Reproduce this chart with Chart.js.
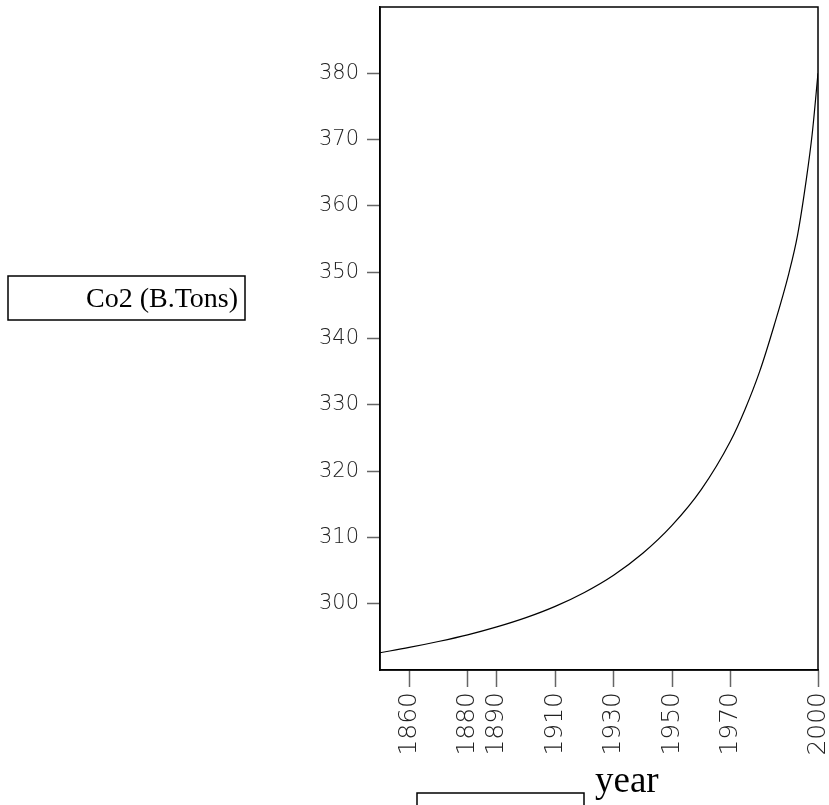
<!DOCTYPE html>
<html>
<head>
<meta charset="utf-8">
<script src="https://cdn.jsdelivr.net/npm/chart.js@4/dist/chart.umd.min.js"></script>
<style>
  body { margin: 0; background: #fff; }
  #wrap { width: 829px; height: 805px; position: relative; }
</style>
</head>
<body>
<div id="wrap"><canvas id="co2Chart"></canvas></div>
<script>
const years = [1850, 1860, 1870, 1880, 1890, 1900, 1910, 1920, 1930, 1940, 1950, 1960, 1970, 1975, 1980, 1985, 1990, 1993, 1996, 1998, 2000];
const co2 = [292.6, 293.4, 294.3, 295.3, 296.5, 297.9, 299.6, 301.7, 304.3, 307.6, 311.8, 317.2, 324.5, 329.3, 335.0, 342.0, 349.8, 355.6, 364.0, 370.8, 380.0];
const xTicks = [1860, 1880, 1890, 1910, 1930, 1950, 1970, 2000];
const yTicks = [300, 310, 320, 330, 340, 350, 360, 370, 380];
const yLabel = 'Co2 (B.Tons)';
const xLabel = 'year';

// frame + the two boxed titles
const extras = {
  id: 'extras',
  afterDraw(chart) {
    const { ctx, chartArea: a } = chart;
    ctx.save();
    ctx.strokeStyle = '#000';
    ctx.lineWidth = 1.5;
    ctx.strokeRect(a.left, a.top, a.right - a.left, a.bottom - a.top);

    // y title box
    ctx.strokeRect(8, 276, 237, 44);
    ctx.fillStyle = '#000';
    ctx.font = '28px "Liberation Serif", "Times New Roman", serif';
    ctx.textAlign = 'right';
    ctx.textBaseline = 'alphabetic';
    ctx.fillText(yLabel, 238, 307);

    // x title box (runs off the bottom)
    ctx.beginPath();
    ctx.moveTo(417, 810);
    ctx.lineTo(417, 793);
    ctx.lineTo(584, 793);
    ctx.lineTo(584, 810);
    ctx.stroke();
    ctx.font = '37px "Liberation Serif", "Times New Roman", serif';
    ctx.textAlign = 'left';
    ctx.fillText(xLabel, 595, 792);
    ctx.restore();
  }
};

new Chart(document.getElementById('co2Chart'), {
  type: 'line',
  data: {
    datasets: [{
      data: years.map((y, i) => ({ x: y, y: co2[i] })),
      borderColor: '#000',
      borderWidth: 1.2,
      pointRadius: 0,
      cubicInterpolationMode: 'monotone',
      fill: false
    }]
  },
  options: {
    responsive: true,
    maintainAspectRatio: false,
    animation: false,
    layout: { padding: { top: 7, right: 11, left: 0, bottom: 0 } },
    plugins: { legend: { display: false }, tooltip: { enabled: false } },
    scales: {
      x: {
        type: 'linear',
        min: 1850,
        max: 2000,
        afterBuildTicks: s => { s.ticks = xTicks.map(v => ({ value: v })); },
        afterFit: s => { s.height = 135; s.paddingLeft = 0; s.paddingRight = 0; },
        grid: { drawOnChartArea: false, tickLength: 17, tickColor: '#666', tickWidth: 1.5 },
        border: { color: '#000', width: 1.5 },
        ticks: {
          minRotation: 90,
          maxRotation: 90,
          padding: 5,
          color: '#222',
          autoSkip: false,
          font: { family: '"DejaVu Sans"', weight: '200', size: 25 },
          callback: v => String(v)
        }
      },
      y: {
        min: 290,
        max: 390,
        afterBuildTicks: s => { s.ticks = yTicks.map(v => ({ value: v })); },
        afterFit: s => { s.width = 380; s.paddingTop = 0; s.paddingBottom = 0; },
        grid: { drawOnChartArea: false, tickLength: 13, tickColor: '#666', tickWidth: 1.5 },
        border: { color: '#000', width: 1.5 },
        ticks: {
          padding: 8,
          color: '#222',
          font: { family: '"DejaVu Sans"', weight: '200', size: 21 }
        }
      }
    }
  },
  plugins: [extras]
});
</script>
</body>
</html>
